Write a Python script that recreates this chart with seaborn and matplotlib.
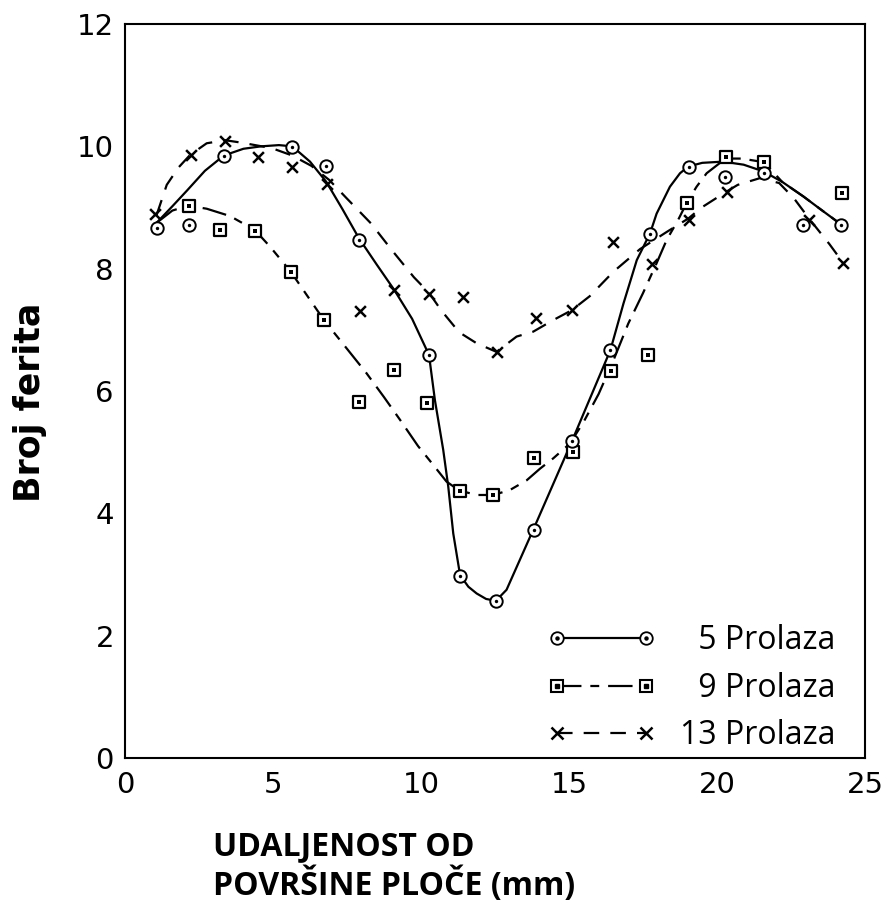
import matplotlib
matplotlib.use("Agg")
import matplotlib.pyplot as plt
from matplotlib.lines import Line2D
from matplotlib.legend_handler import HandlerTuple
import seaborn as sns

# ---------------- data ----------------
# measured points
pts5_x = [1.07, 2.16, 3.34, 5.65, 6.79, 7.9, 10.27, 11.33, 12.55, 13.81, 15.1, 16.4, 17.72, 19.04, 20.27, 21.6, 22.92, 24.2]
pts5_y = [8.67, 8.72, 9.85, 9.99, 9.68, 8.47, 6.59, 2.98, 2.57, 3.72, 5.18, 6.67, 8.57, 9.67, 9.50, 9.57, 8.71, 8.72]

pts9_x = [2.17, 3.21, 4.40, 5.60, 6.72, 7.90, 9.09, 10.19, 11.31, 12.43, 13.82, 15.14, 16.42, 17.68, 18.98, 20.29, 21.60, 24.21]
pts9_y = [9.03, 8.63, 8.62, 7.95, 7.16, 5.82, 6.34, 5.80, 4.37, 4.30, 4.91, 5.01, 6.33, 6.59, 9.08, 9.83, 9.74, 9.23]

pts13_x = [1.00, 2.22, 3.39, 4.48, 5.64, 6.81, 7.94, 9.10, 10.28, 11.43, 12.56, 13.87, 15.10, 16.50, 17.79, 19.04, 20.35, 23.10, 24.25]
pts13_y = [8.90, 9.86, 10.08, 9.82, 9.67, 9.39, 7.30, 7.65, 7.59, 7.54, 6.64, 7.19, 7.32, 8.44, 8.07, 8.80, 9.26, 8.80, 8.09]

# hand-drawn fitted curves
curve5_x = [1.05, 1.6, 2.1, 2.7, 3.34, 4.0, 4.6, 5.2, 5.65, 6.25, 6.8, 7.35, 7.9, 8.5, 9.1, 9.7, 10.27,
            10.47, 10.75, 10.92, 11.09, 11.32, 11.6, 11.88, 12.2, 12.53, 12.89, 13.79, 15.09, 16.4,
            16.84, 17.29, 17.74, 17.96, 18.41, 18.75, 19.03, 19.5, 20.2, 20.9, 21.57, 22.2, 22.92, 23.5, 24.2]
curve5_y = [8.74, 9.02, 9.28, 9.6, 9.85, 9.96, 10.0, 10.02, 10.0, 9.75, 9.42, 8.97, 8.5, 8.07, 7.65, 7.18, 6.59,
            5.85, 5.04, 4.44, 3.67, 2.99, 2.8, 2.69, 2.6, 2.57, 2.75, 3.73, 5.17, 6.67,
            7.43, 8.14, 8.58, 8.9, 9.34, 9.56, 9.67, 9.73, 9.75, 9.7, 9.59, 9.42, 9.18, 8.97, 8.72]

curve9_x = [1.07, 1.6, 2.14, 2.76, 3.55, 4.39, 4.9, 5.6, 6.72, 7.45, 8.16, 8.75, 9.29, 9.9, 10.4, 10.86,
            11.3, 11.9, 12.44, 13.0, 13.57, 14.02, 14.47, 15.03, 15.5, 16.0, 16.5, 17.0, 17.5, 17.96,
            18.3, 18.69, 18.98, 19.31, 19.65, 20.29, 20.84, 21.59, 22.2, 22.92, 23.5, 24.2]
curve9_y = [8.75, 8.95, 9.03, 8.98, 8.86, 8.63, 8.36, 7.95, 7.16, 6.72, 6.29, 5.9, 5.53, 5.1, 4.8, 4.52,
            4.37, 4.3, 4.3, 4.38, 4.54, 4.73, 4.9, 5.14, 5.5, 5.95, 6.5, 7.1, 7.6, 8.09,
            8.47, 8.8, 9.08, 9.34, 9.56, 9.8, 9.8, 9.74, 9.42, 9.18, 8.97, 8.72]

curve13_x = [1.07, 1.41, 1.8, 2.2, 2.76, 3.38, 3.94, 4.96, 5.65, 6.3, 6.9, 7.49, 8.31, 9.02, 9.76, 10.28,
             10.68, 11.29, 11.88, 12.55, 13.23, 13.79, 14.47, 15.09, 15.7, 16.5, 17.4, 18.3, 19.03, 19.48,
             20.32, 20.7, 21.45, 22.1, 22.6, 23.14, 23.8, 24.27]
curve13_y = [8.88, 9.37, 9.65, 9.86, 10.05, 10.1, 10.06, 9.97, 9.85, 9.68, 9.45, 9.15, 8.74, 8.3, 7.86, 7.6,
             7.32, 6.96, 6.78, 6.64, 6.89, 6.97, 7.16, 7.32, 7.55, 7.95, 8.32, 8.6, 8.82, 9.0,
             9.26, 9.37, 9.48, 9.4, 9.15, 8.8, 8.4, 8.09]

series_labels = ["\u20075", "\u20079", "13"]
legend_word = "Prolaza"
x_ticks = [0, 5, 10, 15, 20, 25]
y_ticks = [0, 2, 4, 6, 8, 10, 12]
x_label = "UDALJENOST OD\nPOVRŠINE PLOČE (mm)"
y_label = "Broj ferita"

# ---------------- style ----------------
sns.set_theme(style="white")
plt.rcParams["font.family"] = ["DejaVu Sans"]
plt.rcParams["axes.edgecolor"] = "black"
plt.rcParams["axes.linewidth"] = 1.5
plt.rcParams["xtick.direction"] = "in"
plt.rcParams["ytick.direction"] = "in"

fig = plt.figure(figsize=(8.84, 9.21), dpi=100)
ax = fig.add_axes([125 / 884, 1 - 758 / 921, 740 / 884, 734 / 921])

LW = 1.6
DASH9 = (11, 4, 4, 4)
DASH13 = (7, 5)
# curves
sns.lineplot(x=curve9_x, y=curve9_y, ax=ax, color="black", lw=LW, sort=False, estimator=None)
ax.lines[-1].set_dashes(DASH9)
sns.lineplot(x=curve13_x, y=curve13_y, ax=ax, color="black", lw=LW, sort=False, estimator=None)
ax.lines[-1].set_dashes(DASH13)
sns.lineplot(x=curve5_x, y=curve5_y, ax=ax, color="black", lw=LW, sort=False, estimator=None)

# markers
ms_area = 80
sns.scatterplot(x=pts13_x, y=pts13_y, ax=ax, marker="x", s=60, color="black", linewidth=1.8, zorder=4)
sns.scatterplot(x=pts9_x, y=pts9_y, ax=ax, marker="s", s=ms_area, facecolor="white",
                edgecolor="black", linewidth=1.6, zorder=5)
sns.scatterplot(x=pts9_x, y=pts9_y, ax=ax, marker="s", s=6, color="black", linewidth=0, zorder=6)
sns.scatterplot(x=pts5_x, y=pts5_y, ax=ax, marker="o", s=ms_area, facecolor="white",
                edgecolor="black", linewidth=1.4, zorder=5)
sns.scatterplot(x=pts5_x, y=pts5_y, ax=ax, marker="o", s=6, color="black", linewidth=0, zorder=6)

# axes
ax.set_xlim(0, 25)
ax.set_ylim(0, 12)
ax.set_xticks(x_ticks)
ax.set_yticks(y_ticks)
ax.set_xticklabels([str(t) for t in x_ticks])
ax.set_yticklabels([str(t) for t in y_ticks])
for s in ax.spines.values():
    s.set_visible(True)
    s.set_color("black")
    s.set_linewidth(1.5)
ax.tick_params(axis="both", which="major", direction="in", length=8, width=1.4,
               labelsize=21, colors="black", pad=8, top=False, right=False)
ax.tick_params(axis="x", pad=9)
ax.grid(False)

ax.set_ylabel(y_label, fontsize=25, fontweight="bold", family=["DejaVu Sans"], color="black")
ax.yaxis.set_label_coords(-0.105, 0.485)
ax.set_xlabel(x_label, fontsize=23, fontweight="bold",
              family=["Open Sans", "DejaVu Sans"], color="black",
              ha="left", multialignment="left", linespacing=1.15)
ax.xaxis.set_label_coords((213 - 125) / 740, -0.098)

# legend
h5 = (Line2D([], [], color="black", lw=LW, marker="o", ms=9, mfc="white", mec="black", mew=1.3),
      Line2D([], [], ls="none", marker="o", ms=2.2, color="black"))
h9 = (Line2D([], [], color="black", lw=LW, marker="s", ms=8.5, mfc="white", mec="black", mew=1.5,
             dashes=DASH9),
      Line2D([], [], ls="none", marker="s", ms=2.2, color="black"))
h13 = (Line2D([], [], color="black", lw=LW, marker="x", ms=8, mew=1.8, dashes=DASH13),)

handles = [h5, h9, h13]
labels = [f"{n} {legend_word}" for n in series_labels]
leg = ax.legend(handles, labels, handler_map={tuple: HandlerTuple(ndivide=1, pad=0)},
                numpoints=2, frameon=False, loc="lower right",
                bbox_to_anchor=((848 - 125) / 740, (758 - 765) / 734),
                handlelength=3.4, handletextpad=0.75, labelspacing=0.45, borderaxespad=0.0,
                prop={"family": ["Open Sans", "DejaVu Sans"], "size": 23})
for t in leg.get_texts():
    t.set_color("black")

fig.savefig("out.png", dpi=100, facecolor="white")
